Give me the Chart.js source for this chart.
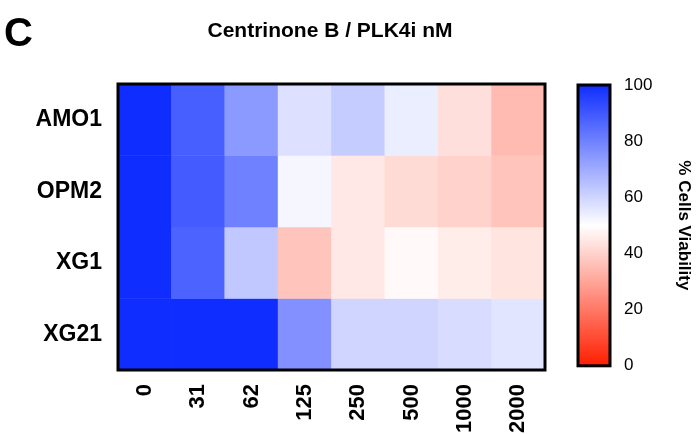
<!DOCTYPE html><html><head><style>body{margin:0;background:#fff;font-family:"Liberation Sans",Arial,sans-serif}
#w{position:relative;width:698px;height:434px}
#c1{position:absolute;left:0;top:0}
#c2{position:absolute;left:560px;top:60px}
#lab{position:absolute;left:4px;top:10px;font-size:40px;font-weight:bold}
#t{position:absolute;left:130px;width:400px;text-align:center;top:18px;font-size:21px;font-weight:bold}
</style><script src="https://cdn.jsdelivr.net/npm/chart.js"></script></head><body>
<div id="w"><canvas id="c1" width="698" height="434"></canvas><canvas id="c2" width="138" height="330"></canvas><div id="lab">C</div><div id="t">Centrinone B / PLK4i nM</div></div>
<script>
const doses=['0','31','62','125','250','500','1000','2000'];
const cells=['AMO1','OPM2','XG1','XG21'];
const AMO1=[100,88,74,57,62,54,43,35];
const OPM2=[100,89,80,52,45,42,40,37];
const XG1=[100,87,63,37,45,49,46,44];
const XG21=[100,100,100,76,60,60,58,56];
const rows=[AMO1,OPM2,XG1,XG21];
function col(v){let r,g,b;if(v>=50){const t=(v-50)/50;r=255+(15-255)*t;g=255+(45-255)*t;b=255;}else{const t=(50-v)/50;r=255;g=255+(30-255)*t;b=255+(0-255)*t;}return `rgb(${r|0},${g|0},${b|0})`;}
const F='"Liberation Sans",Arial,sans-serif';
const datasets=rows.map((vals,i)=>({data:vals.map(()=>[3-i,4-i]),backgroundColor:vals.map(col),borderWidth:0,barPercentage:1,categoryPercentage:1,grouped:false}));
const frame={id:'frame',afterDatasetsDraw(c){const a=c.chartArea,x=c.ctx;x.save();x.lineWidth=3;x.strokeStyle='#000';x.strokeRect(a.left,a.top,a.right-a.left,a.bottom-a.top);x.restore();}};
new Chart(document.getElementById('c1'),{type:'bar',data:{labels:doses,datasets},plugins:[frame],
options:{responsive:false,animation:false,layout:{padding:{left:0,right:153,top:84,bottom:0}},
plugins:{legend:{display:false},tooltip:{enabled:false}},
scales:{x:{grid:{display:false},border:{display:false},afterFit(s){s.height=64;},ticks:{color:'#000',font:{family:F,size:22,weight:'bold'},maxRotation:90,minRotation:90,padding:6}},
y:{min:0,max:4,afterBuildTicks(s){s.ticks=[3.5,2.5,1.5,0.5].map(v=>({value:v}));},grid:{display:false},border:{display:false},afterFit(s){s.width=118;},
ticks:{color:'#000',font:{family:F,size:23,weight:'bold'},padding:8,callback:v=>({3.5:'AMO1',2.5:'OPM2',1.5:'XG1',0.5:'XG21'})[v]}}}}});
new Chart(document.getElementById('c2'),{type:'bar',data:{labels:[''],datasets:[{data:[[0,100]],borderWidth:0,barPercentage:1,categoryPercentage:1,
backgroundColor(ctx){const a=ctx.chart.chartArea;if(!a)return '#fff';const g=ctx.chart.ctx.createLinearGradient(0,a.bottom,0,a.top);for(let v=0;v<=100;v+=10)g.addColorStop(v/100,col(v));return g;}}]},plugins:[frame],
options:{responsive:false,animation:false,layout:{padding:{top:25,bottom:24,left:18,right:0}},plugins:{legend:{display:false},tooltip:{enabled:false}},
scales:{x:{display:false},y:{position:'right',min:0,max:100,grid:{display:false,drawTicks:false},border:{display:false},afterFit(s){s.width=88;},
ticks:{stepSize:20,color:'#000',font:{family:F,size:17},padding:14},title:{display:true,text:'% Cells Viability',color:'#000',font:{family:F,size:17,weight:'bold'}}}}}});
</script></body></html>
